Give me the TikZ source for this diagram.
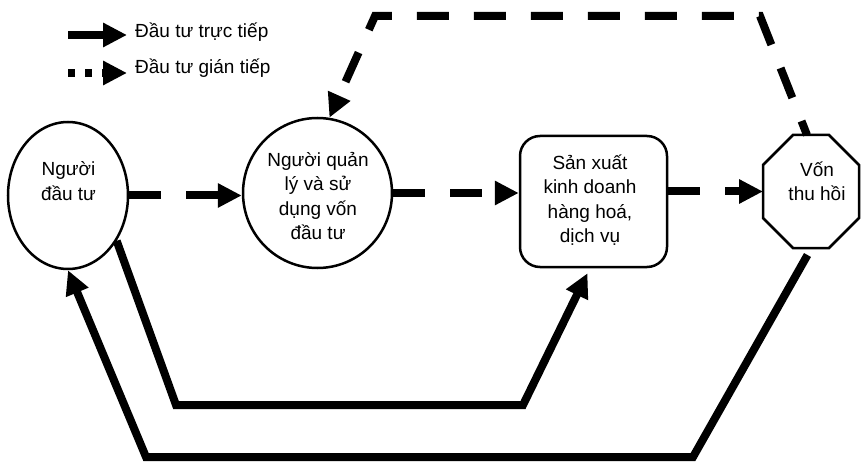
\documentclass[tikz,border=0pt]{standalone}
\usepackage{fontspec}
\setmainfont{Liberation Sans}
\usetikzlibrary{arrows.meta,shapes.geometric,calc}
\newcommand{\mytxt}[1]{\vtop{\baselineskip=24.5pt\lineskiplimit=-\maxdimen\halign{\hfil##\hfil\cr#1\crcr}}}
\begin{document}
\begin{tikzpicture}[x=1pt,y=-1pt,
  shp/.style={draw, line width=2.5pt, inner sep=0pt},
  txt/.style={inner sep=0pt, anchor=base, font=\fontsize{19}{24.5}\selectfont},
  conn/.style={line width=8pt, -{Triangle[length=24pt,width=23pt]}},
  indirect/.style={conn, dash pattern=on 32pt off 25pt}]
\useasboundingbox (0,0) rectangle (861,462);

% shapes
\node[shp, ellipse, minimum width=120pt, minimum height=147pt] (A) at (68,195.5) {};
\node[shp, ellipse, minimum width=149pt, minimum height=150pt] (B) at (317.5,193) {};
\node[shp, rectangle, rounded corners=20pt, minimum width=147pt, minimum height=131pt] (C) at (593.5,201.5) {};
\node[inner sep=0pt, outer sep=0pt, minimum width=96pt, minimum height=113pt] (D) at (811,191.5) {};
\draw[line width=2.5pt] ([xshift=30pt]D.north west) -- ([xshift=-30pt]D.north east)
  -- ([yshift=-30pt]D.north east) -- ([yshift=30pt]D.south east)
  -- ([xshift=-30pt]D.south east) -- ([xshift=30pt]D.south west)
  -- ([yshift=30pt]D.south west) -- ([yshift=-30pt]D.north west) -- cycle;

% texts
\node[txt] (At) at (68.5,176) {\mytxt{Người\cr đầu tư}};
\node[txt] (Bt) at (318,166.5) {\mytxt{Người quản\cr lý và sử\cr dụng vốn\cr đầu tư}};
\node[txt] (Ct) at (590,169.5) {\mytxt{Sản xuất\cr kinh doanh\cr hàng hoá,\cr dịch vụ}};
\node[txt] (Dt) at (817,176.5) {\mytxt{Vốn\cr thu hồi}};

% legend
\coordinate (L1s) at (68,35);
\coordinate (L1e) at (127,35);
\draw[conn] (L1s) -- (L1e);
\node[txt, anchor=base west] (L1t) at (135,38) {Đầu tư trực tiếp};
\coordinate (L2s) at (68,73);
\coordinate (L2e) at (127,73);
\draw[conn, dash pattern=on 7pt off 10pt] (L2s) -- (L2e);
\node[txt, anchor=base west] (L2t) at (135,74) {Đầu tư gián tiếp};

% indirect (dashed) connectors
\draw[indirect] (A.east) -- (A.east -| B.west);
\draw[indirect] (B.east) -- (B.east -| C.west);
\draw[indirect] (C.east |- D.west) -- (D.west);
\coordinate (T1) at (760,16);
\coordinate (T2) at (375,16);
\draw[indirect, dash phase=17pt] ([xshift=-4pt]D.north) -- (T1) -- (T2) -- (B.81);

% direct (solid) connectors
\coordinate (P1) at (176,405);
\coordinate (P2) at (523,405);
\draw[conn] (A.-43) -- (P1) -- (P2) -- ([xshift=-6pt,yshift=-5pt]C.south);
\coordinate (Q1) at (693,457);
\coordinate (Q2) at (146,457);
\draw[conn] ([xshift=-3.5pt,yshift=-7pt]D.south) -- (Q1) -- (Q2) -- (A.south);
\end{tikzpicture}
\end{document}
